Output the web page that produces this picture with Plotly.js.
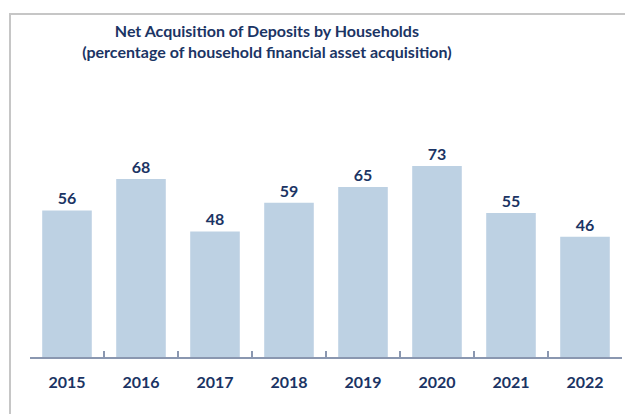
<!DOCTYPE html>
<html>
<head>
<meta charset="utf-8">
<script src="https://cdn.plot.ly/plotly-3.0.1.min.js"></script>
<style>
  html, body { margin: 0; padding: 0; background: #ffffff; overflow: hidden; }
  #frame { position: absolute; left: 9px; top: 13px; width: 700px; height: 500px;
           border-top: 2px solid #c6c6c6; border-left: 2px solid #c6c6c6; z-index: 0; }
  #chart { position: absolute; left: 0; top: 0; width: 625px; height: 414px; z-index: 1; }
</style>
</head>
<body>
<div id="frame"></div>
<div id="chart"></div>
<script>
const years = ["2015", "2016", "2017", "2018", "2019", "2020", "2021", "2022"];
const depositShare = [56, 68, 48, 59, 65, 73, 55, 46];
const valueLabels = ["56", "68", "48", "59", "65", "73", "55", "46"];

const navy = "#1b3464";
const fontFam = "Lato, 'Open Sans', sans-serif";

const trace = {
  type: "bar",
  x: years,
  y: depositShare,
  text: valueLabels,
  textposition: "outside",
  cliponaxis: false,
  textfont: { family: fontFam, size: 16, color: navy, weight: 700 },
  marker: { color: "#bdd1e3", line: { width: 0 } },
  hoverinfo: "none"
};

const layout = {
  width: 625,
  height: 414,
  margin: { l: 30, r: 3, t: 98, b: 57 },
  paper_bgcolor: "rgba(0,0,0,0)",
  plot_bgcolor: "rgba(0,0,0,0)",
  showlegend: false,
  bargap: 0.33,
  title: {
    text: "Net Acquisition of Deposits by Households<br>(percentage of household financial asset acquisition)",
    x: 0.427,
    xref: "container",
    xanchor: "center",
    y: 0.911,
    yref: "container",
    yanchor: "top",
    font: { family: fontFam, size: 16, color: navy, weight: 700 }
  },
  xaxis: {
    type: "category",
    showline: true,
    linecolor: "#8a97b0",
    linewidth: 2,
    ticks: "inside",
    tickson: "boundaries",
    ticklen: 6,
    tickwidth: 1.5,
    tickcolor: "#8a97b0",
    showgrid: false,
    zeroline: false,
    tickfont: { family: fontFam, size: 16, color: navy, weight: 700 },
    ticklabelstandoff: 10
  },
  yaxis: {
    range: [0, 99],
    visible: false,
    showgrid: false,
    zeroline: false
  }
};

Plotly.newPlot("chart", [trace], layout, { displayModeBar: false, staticPlot: true });
</script>
</body>
</html>
